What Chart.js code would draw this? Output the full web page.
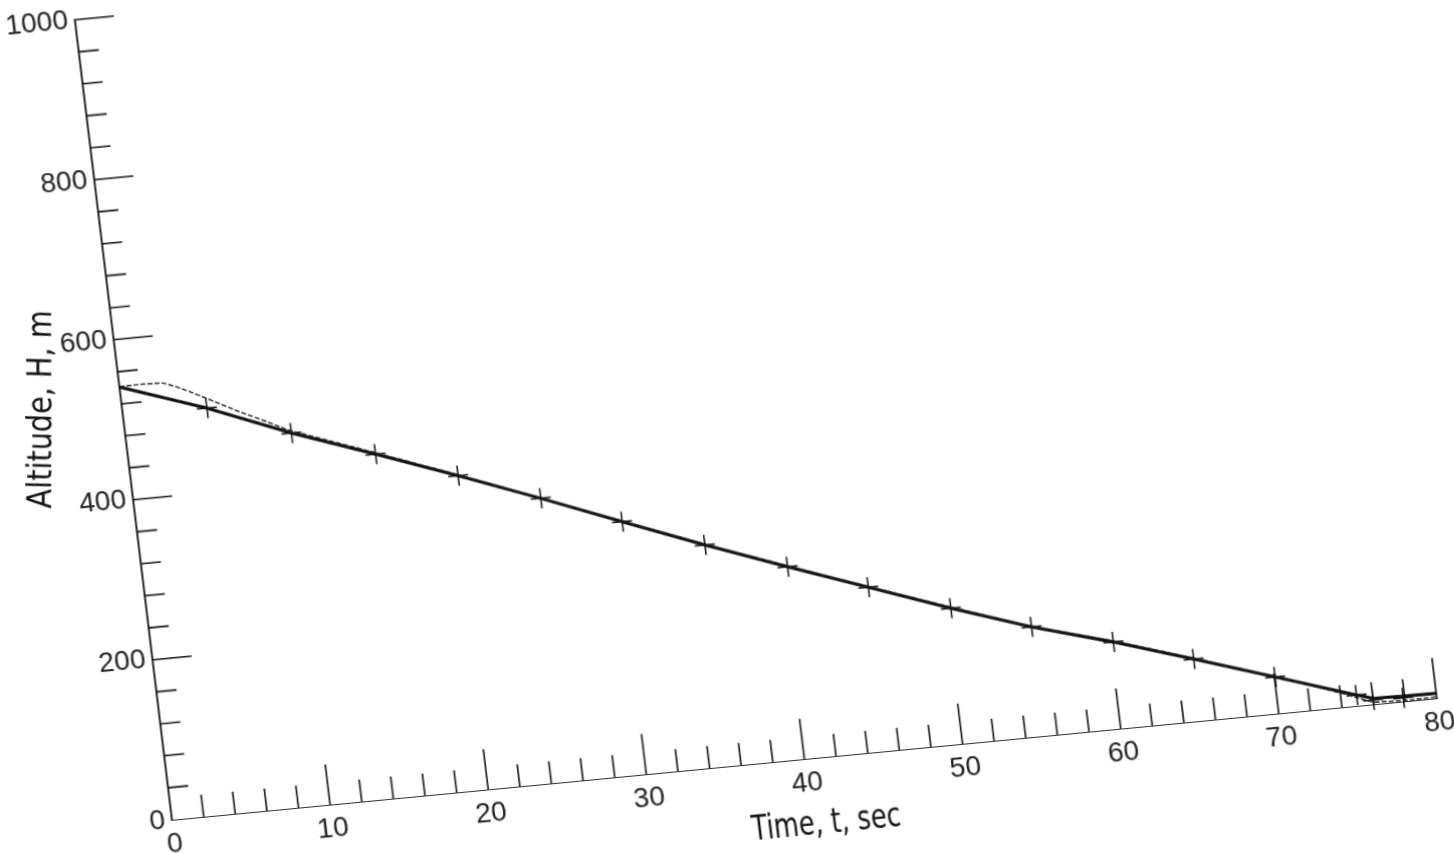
<!DOCTYPE html>
<html>
<head>
<meta charset="utf-8">
<title>Altitude, H, m</title>
<script src="https://cdn.jsdelivr.net/npm/chart.js@4.4.1/dist/chart.umd.min.js"></script>
<style>
  html, body { margin: 0; padding: 0; background: #fff; overflow: hidden; }
  body { width: 1454px; height: 853px; position: relative; }
  #plot { position: absolute; left: 0; top: 0; transform-origin: 0 0; }
</style>
</head>
<body>
<canvas id="plot" width="1435" height="913"></canvas>
<script>
// values (time in s, altitude in m)
const crossTime = [5.3, 10.4, 15.5, 20.5, 25.5, 30.4, 35.4, 40.4, 45.3, 50.3, 55.2, 60.2, 65.1, 70.05, 75.0, 76.0, 77.9];
const crossAlt  = [504.7, 463.7, 427.7, 391.2, 353.4, 314.8, 276.3, 239.7, 204.6, 168.9, 136.2, 107.9, 77.3, 45.4, 13.5, 5.3, 4.3];

const flownTime = [0, 5.3, 10.4, 15.5, 20.5, 25.5, 30.4, 35.4, 40.4, 45.3, 50.3, 55.2, 60.2, 65.1, 70.05, 75.0, 76.0, 77.9, 80.0];
const flownAlt  = [541, 504.7, 463.7, 427.7, 391.2, 353.4, 314.8, 276.3, 239.7, 204.6, 168.9, 136.2, 107.9, 77.3, 45.4, 13.5, 7.5, 6.5, 6.0];

const pathTime = [0, 0.35, 1.5, 2.75, 3.6, 4.4, 5.6, 7.35, 9.0, 10.2, 15.5, 20.5, 25.5, 30.4, 35.4, 40.4, 45.3, 50.3, 55.2, 60.2, 65.1, 70.0, 74.0, 76.0, 78.0, 80.0];
const pathAlt  = [541.2, 541.6, 541.9, 540.8, 534.2, 526.4, 514.2, 495.8, 480.2, 468, 429.5, 392.5, 354, 316, 277.5, 241, 205.5, 170.5, 137, 109.5, 78.5, 46.5, 18, 2.5, 1, 1.5];

const timeTicks = [0, 10, 20, 30, 40, 50, 60, 70, 80];
const altTicks = [0, 200, 400, 600, 800, 1000];
const timeMinorStep = 2;
const altMinorStep = 40;

const xTitle = "Time, t, sec";
const yTitle = "Altitude, H, m";

// where the axis corners sit on the (tilted) scan
const pageOrigin = { x: 172, y: 819.8 };
const pageXEnd = { x: 1436.8, y: 698.2 };
const pageYEnd = { x: 74.9, y: 19.8 };

const titleFont = "34px 'Liberation Sans Narrow', 'DejaVu Sans Condensed', 'DejaVu Sans', sans-serif";
const tickFont = { family: "'Liberation Sans', 'DejaVu Sans', sans-serif", size: 28 };

function pts(xs, ys) {
  return xs.map((t, i) => ({ x: t, y: ys[i] }));
}

function pageMatrix(chart) {
  const { x, y } = chart.scales;
  const x0 = x.getPixelForValue(x.min), x1 = x.getPixelForValue(x.max);
  const y0 = y.getPixelForValue(y.min), y1 = y.getPixelForValue(y.max);
  const a = (pageXEnd.x - pageOrigin.x) / (x1 - x0);
  const b = (pageXEnd.y - pageOrigin.y) / (x1 - x0);
  const c = (pageYEnd.x - pageOrigin.x) / (y1 - y0);
  const d = (pageYEnd.y - pageOrigin.y) / (y1 - y0);
  return { a, b, c, d, e: pageOrigin.x - a * x0 - c * y0, f: pageOrigin.y - b * x0 - d * y0 };
}

// short and long tick marks pointing into the plot
const axisTicks = {
  id: "axisTicks",
  afterDatasetsDraw(chart) {
    const { ctx, scales: { x, y } } = chart;
    const x0 = x.getPixelForValue(0), y0 = y.getPixelForValue(0);
    ctx.save();
    ctx.strokeStyle = "#111";
    ctx.lineWidth = 1.6;
    ctx.beginPath();
    for (let t = timeMinorStep; t <= x.max; t += timeMinorStep) {
      const px = x.getPixelForValue(t);
      const len = timeTicks.includes(t) ? 40 : 22;
      ctx.moveTo(px, y0);
      ctx.lineTo(px, y0 - len);
    }
    for (let h = altMinorStep; h <= y.max; h += altMinorStep) {
      const py = y.getPixelForValue(h);
      const len = altTicks.includes(h) ? 39 : 20;
      ctx.moveTo(x0, py);
      ctx.lineTo(x0 + len, py);
    }
    ctx.stroke();
    ctx.restore();
  }
};

function drawTitle(ctx, text, px, py, angle, squeeze) {
  ctx.save();
  ctx.translate(px, py);
  ctx.rotate(angle);
  ctx.scale(squeeze, 1);
  ctx.font = titleFont;
  ctx.fillStyle = "#111";
  ctx.textAlign = "center";
  ctx.textBaseline = "middle";
  ctx.fillText(text, 0, 0);
  ctx.restore();
}

// axis titles; the y title stays upright on the page, unlike the rest of the scan
const axisTitles = {
  id: "axisTitles",
  afterDraw(chart) {
    const m = pageMatrix(chart);
    const { ctx, chartArea } = chart;
    drawTitle(ctx, xTitle, (chartArea.left + chartArea.right) / 2 + 14, chartArea.bottom + 66, 0, 0.84);
    drawTitle(ctx, yTitle, chartArea.left - 79, (chartArea.top + chartArea.bottom) / 2 - 18, Math.atan2(-m.a, m.c), 0.93);
  }
};

const canvas = document.getElementById("plot");
const chart = new Chart(canvas, {
  type: "scatter",
  data: {
    datasets: [
      {
        data: pts(pathTime, pathAlt),
        showLine: true,
        borderColor: "#222",
        borderWidth: 1.4,
        borderDash: [5, 2],
        pointRadius: 0
      },
      {
        data: pts(flownTime, flownAlt),
        showLine: true,
        borderColor: "#111",
        borderWidth: 3.2,
        pointRadius: 0
      },
      {
        data: pts(crossTime, crossAlt),
        showLine: false,
        pointStyle: "cross",
        pointRadius: 10,
        pointBorderWidth: 1.5,
        pointBorderColor: "#111",
        clip: false
      }
    ]
  },
  options: {
    responsive: false,
    devicePixelRatio: 1,
    animation: false,
    events: [],
    layout: { padding: { left: 0, top: 20, right: 60, bottom: 0 } },
    plugins: { legend: { display: false }, tooltip: { enabled: false } },
    scales: {
      x: {
        type: "linear",
        min: 0,
        max: 80,
        afterFit: (s) => { s.height = 93; },
        afterBuildTicks: (s) => { s.ticks = timeTicks.map((v) => ({ value: v })); },
        grid: { display: false, drawTicks: false },
        border: { display: true, color: "#333", width: 1, dash: [5, 3] },
        ticks: { color: "#222", font: tickFont, padding: 7, maxRotation: 0, autoSkip: false, callback: (v) => String(v) }
      },
      y: {
        type: "linear",
        min: 0,
        max: 1000,
        afterFit: (s) => { s.width = 110; },
        afterBuildTicks: (s) => { s.ticks = altTicks.map((v) => ({ value: v })); },
        grid: { display: false, drawTicks: false },
        border: { display: true, color: "#111", width: 1.8 },
        ticks: { color: "#222", font: tickFont, padding: 7, autoSkip: false, callback: (v) => String(v) }
      }
    }
  },
  plugins: [axisTicks, axisTitles]
});

const m = pageMatrix(chart);
canvas.style.transform = `matrix(${m.a}, ${m.b}, ${m.c}, ${m.d}, ${m.e}, ${m.f})`;
</script>
</body>
</html>
